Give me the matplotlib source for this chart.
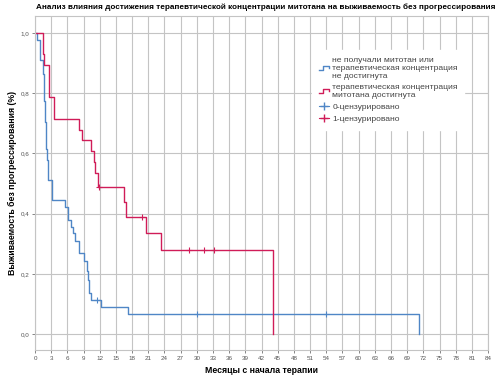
import matplotlib
matplotlib.use('Agg')
import matplotlib.pyplot as plt
from matplotlib.lines import Line2D
from matplotlib.legend_handler import HandlerBase

plt.rcParams['font.family'] = ['Liberation Sans', 'DejaVu Sans']

# группа 1: не получали митотан / концентрация не достигнута
blue_t = [0, 0.4, 0.9, 1.5, 1.55, 1.6, 1.65, 1.7, 1.75, 1.8, 1.85, 1.9, 1.95, 2.0,
          2.05, 2.1, 2.2, 2.5, 3.2, 5.6, 6.2, 6.6, 7.0, 7.5, 8.1, 9.1, 9.6, 9.8,
          10.1, 10.45, 12.2, 17.3, 71.2]
blue_s = [1.0, 0.977, 0.909, 0.886, 0.864, 0.841, 0.818, 0.795, 0.773, 0.750, 0.727,
          0.705, 0.682, 0.659, 0.636, 0.614, 0.578, 0.512, 0.445, 0.421, 0.379, 0.356,
          0.334, 0.310, 0.270, 0.243, 0.210, 0.179, 0.135, 0.113, 0.089, 0.065, 0.0]
blue_cens_t = [11.5, 30.0, 53.9]
blue_cens_s = [0.113, 0.065, 0.065]

# группа 2: терапевтическая концентрация достигнута
red_t = [0, 1.45, 1.5, 1.6, 2.6, 3.6, 8.1, 8.7, 10.45, 10.9, 11.2, 11.6, 16.5, 16.8,
         20.5, 23.35, 44.2]
red_s = [1.0, 0.964, 0.929, 0.893, 0.786, 0.714, 0.679, 0.643, 0.607, 0.571, 0.536,
         0.487, 0.437, 0.390, 0.334, 0.279, 0.0]
red_cens_t = [11.9, 19.9, 28.6, 31.4, 33.1]
red_cens_s = [0.487, 0.390, 0.279, 0.279, 0.279]

labels = ['не получали митотан или\nтерапевтическая концентрация\nне достигнута',
          'терапевтическая концентрация\nмитотана достигнута',
          '0-цензурировано', '1-цензурировано']

BLUE = '#4f86c6'
RED = '#d01c58'
GRID = '#c4c4c4'


class StepHandler(HandlerBase):
    def create_artists(self, legend, orig, xd, yd, w, h, fontsize, trans):
        xs = [xd, xd + w * 0.45, xd + w * 0.45, xd + w, xd + w]
        ys = [yd + h * 0.2, yd + h * 0.2, yd + h * 0.8, yd + h * 0.8, yd + h * 0.5]
        ln = Line2D(xs, ys, color=orig.get_color(), lw=1.0, transform=trans)
        return [ln]


fig = plt.figure(figsize=(4.98, 3.77), dpi=100)
ax = fig.add_axes([0.0703, 0.0716, 0.9097, 0.8860])

ax.step(blue_t, blue_s, where='post', color=BLUE, lw=1.0)
ax.step(red_t, red_s, where='post', color=RED, lw=1.0)
ax.plot(blue_cens_t, blue_cens_s, ls='none', marker='+', ms=4, mew=0.8, color=BLUE)
ax.plot(red_cens_t, red_cens_s, ls='none', marker='+', ms=4, mew=0.8, color=RED)

ax.set_xlim(0, 84)
ax.set_ylim(-0.053, 1.056)
ax.set_xticks(range(0, 85, 3))
ax.set_yticks([0, 0.2, 0.4, 0.6, 0.8, 1.0])
ax.set_yticklabels(['0,0', '0,2', '0,4', '0,6', '0,8', '1,0'])
ax.tick_params(labelsize=4.5, length=2, width=0.5, colors='#555555', pad=2)
ax.grid(True, color=GRID, lw=0.8)
ax.set_axisbelow(True)
for s in ax.spines.values():
    s.set_color(GRID)
    s.set_linewidth(0.8)

ax.set_title('Анализ влияния достижения терапевтической концентрации митотана на выживаемость без прогрессирования',
             fontsize=5.85, fontweight='bold', pad=5, x=0.51)
ax.set_xlabel('Месяцы с начала терапии', fontsize=6.3, fontweight='bold', labelpad=4)
ax.set_ylabel('Выживаемость без прогрессирования (%)', fontsize=6.3, fontweight='bold', labelpad=3)

h_blue = Line2D([], [], color=BLUE)
h_red = Line2D([], [], color=RED)
h_c0 = Line2D([], [], color=BLUE, marker='+', ms=6, lw=0.8)
h_c1 = Line2D([], [], color=RED, marker='+', ms=6, lw=0.8)
leg = ax.legend([h_blue, h_red, h_c0, h_c1], labels, loc='upper left',
                bbox_to_anchor=(0.611, 0.898), borderaxespad=0, fontsize=6.1,
                handlelength=1.2, handletextpad=0.4, labelspacing=0.5,
                handler_map={h_blue: StepHandler(), h_red: StepHandler()},
                frameon=True, fancybox=False, borderpad=0.8)
leg.get_frame().set_edgecolor('white')
leg.get_frame().set_facecolor('white')
leg.get_frame().set_alpha(1)
for t in leg.get_texts():
    t.set_color('#444444')

fig.savefig('out.png', dpi=100)
